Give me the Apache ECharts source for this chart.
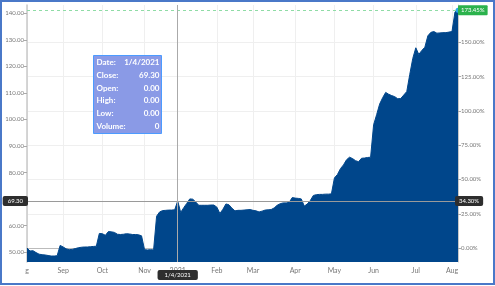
<!DOCTYPE html>
<html>
<head>
<meta charset="utf-8">
<script src="https://cdn.jsdelivr.net/npm/echarts@6/dist/echarts.min.js"></script>
<style>
html, body { margin: 0; padding: 0; background: #fff; }
#chart { position: absolute; left: 0; top: 0; width: 495px; height: 286px; }
#frame { position: absolute; left: 0; top: 0; width: 491px; height: 281px; border: 2px solid #4a78c8; pointer-events: none; }
</style>
</head>
<body>
<div id="chart"></div>
<div id="frame"></div>
<script>
// trading days shown on the chart
function days(m, y, list) { return list.map(d => m + '/' + d + '/' + y); }
const dates = [].concat(
    days(8, 2020, [4, 5, 6, 7, 10, 12, 14, 17, 19, 21, 25, 28]),
    days(9, 2020, [1, 3, 4, 8, 10, 14, 16, 17, 21, 23, 25, 28, 30]),
    days(10, 2020, [1, 2, 5, 7, 9, 12, 14, 16, 19, 21, 23, 26, 28, 30]),
    days(11, 2020, [2, 5, 9, 12, 16, 19, 23]),
    days(12, 2020, [1, 9, 17, 28]),
    days(1, 2021, [4, 6, 8, 11, 13, 15, 19, 21, 22, 25, 26, 28, 29]),
    days(2, 2021, [1, 3, 4, 5, 8, 10, 12, 16, 18, 19, 23, 25]),
    days(3, 2021, [1, 2, 4, 5, 8, 10, 12, 15, 17, 19, 22, 24, 26, 30]),
    days(4, 2021, [1, 5, 6, 8, 12, 14, 16, 19, 20, 22, 26, 28, 30]),
    days(5, 2021, [3, 4, 6, 7, 10, 12, 14, 17, 19, 21, 24, 26, 28]),
    days(6, 2021, [1, 2, 4, 7, 9, 11, 14, 16, 18, 21, 23, 25, 28, 30]),
    days(7, 2021, [1, 2, 6, 8, 9, 13, 15, 19, 21, 23, 27, 29]),
    days(8, 2021, [2, 3, 4])
);

const closes = [
    51.60, 50.5, 50.6, 49.9, 49.3, 49.1, 49.0, 48.8, 48.6, 48.6, 48.7, 52.6,
    52.0, 51.3, 51.0, 51.1, 51.4, 51.7, 51.9, 52.0, 52.0, 52.1, 52.2, 52.3, 57.1,
    57.0, 56.4, 57.8, 57.7, 57.5, 56.8, 56.7, 56.8, 57.0, 56.9, 56.7, 56.7, 56.6, 56.2,
    51.0, 50.9, 51.0, 50.9, 63.6, 65.2, 65.7, 65.8, 65.9, 65.9, 66.0,
    69.30, 65.0, 66.8, 68.4, 70.1, 70.0, 68.9, 67.7, 67.7, 67.7, 67.7, 67.8, 67.8,
    67.0, 64.6, 66.2, 68.2, 67.9, 66.6, 65.6, 65.8, 65.8, 65.9, 66.0, 66.1,
    65.8, 65.6, 65.2, 65.5, 65.9, 66.0, 66.1, 66.7, 67.7, 68.3, 68.6, 68.6, 68.8, 70.6,
    70.4, 70.3, 70.1, 67.4, 68.2, 69.5, 71.4, 71.7, 71.8, 71.8, 71.9, 71.9, 72.0,
    78.0, 79.3, 81.5, 82.9, 84.8, 85.8, 85.3, 84.5, 84.1, 85.4, 85.5, 85.7, 85.8,
    98.0, 101.8, 105.8, 108.2, 110.2, 109.5, 109.0, 108.6, 107.8, 107.9, 109.2, 110.5, 117.0, 123.0,
    127.0, 124.5, 126.0, 127.2, 131.5, 132.8, 133.1, 132.5, 132.6, 132.7, 132.7, 132.9,
    133.1, 140.5, 141.10
];

const tickDates = ['8/4/2020', '9/1/2020', '10/1/2020', '11/2/2020', '1/4/2021', '2/1/2021', '3/1/2021', '4/1/2021', '5/3/2021', '6/1/2021', '7/1/2021', '8/2/2021'];
const tickLabels = ['g', 'Sep', 'Oct', 'Nov', '2021', 'Feb', 'Mar', 'Apr', 'May', 'Jun', 'Jul', 'Aug'];
const priceTicks = [50, 60, 70, 80, 90, 100, 110, 120, 130, 140];
const pctTicks = [0, 25, 50, 75, 100, 125, 150];

// hovered point and its tooltip
const cursorDate = '1/4/2021';
const tipLabels = ['Date:', 'Close:', 'Open:', 'High:', 'Low:', 'Volume:'];
const tipOpen = 0, tipHigh = 0, tipLow = 0, tipVolume = 0;

const priceMin = 46.35, priceMax = 143.1;
const base = closes[0];
const pct = v => (v / base - 1) * 100;

const cursorIdx = dates.indexOf(cursorDate);
const cursorClose = closes[cursorIdx];
const last = closes[closes.length - 1];

const isTick = (i, v) => tickDates.indexOf(v) >= 0;
const font = 'Lato';

const seriesData = closes.map((v, i) => i === closes.length - 1
    ? { value: v, symbol: 'circle', symbolSize: 5, itemStyle: { color: '#2aa8e6' } }
    : v);

const tipValues = [cursorDate, cursorClose.toFixed(2), tipOpen.toFixed(2), tipHigh.toFixed(2), tipLow.toFixed(2), String(tipVolume)];
const tipChildren = [{
    type: 'rect', z: 200,
    shape: { x: 0, y: 0, width: 68, height: 78 },
    style: { fill: '#8a9ae6', stroke: '#4c9bff', lineWidth: 1 }
}];
tipLabels.forEach((t, k) => {
    tipChildren.push({ type: 'text', z: 201, x: 3, y: 7 + k * 12.8,
        style: { text: t, fill: '#fff', font: 'bold 8px ' + font, align: 'left', verticalAlign: 'middle' } });
    tipChildren.push({ type: 'text', z: 201, x: 66, y: 7 + k * 12.8,
        style: { text: tipValues[k], fill: '#fff', font: 'bold 8px ' + font, align: 'right', verticalAlign: 'middle' } });
});

const pointerLabel = {
    show: true, backgroundColor: '#2e2e2e', color: '#fff', fontSize: 6,
    fontFamily: font, padding: [2, 4], borderRadius: 2
};

const chart = echarts.init(document.getElementById('chart'));
chart.setOption({
    animation: false,
    textStyle: { fontFamily: font },
    grid: { left: 27, right: 37, top: 5, bottom: 24 },
    axisPointer: { triggerOn: 'none' },
    xAxis: {
        type: 'category',
        data: dates,
        boundaryGap: false,
        axisLine: { lineStyle: { color: '#bbb' } },
        axisTick: { interval: isTick, length: 3, lineStyle: { color: '#bbb' } },
        axisLabel: {
            interval: isTick, color: '#777', fontSize: 7, margin: 5,
            formatter: v => tickLabels[tickDates.indexOf(v)] || ''
        },
        splitLine: { show: true, interval: isTick, lineStyle: { color: '#efefef' } },
        axisPointer: {
            show: true, status: 'show', value: cursorIdx, type: 'line',
            lineStyle: { color: '#aaa', width: 1, type: 'solid' },
            label: Object.assign({}, pointerLabel, { margin: 8, padding: [2, 7] })
        }
    },
    yAxis: [{
        type: 'value',
        min: priceMin, max: priceMax,
        position: 'left',
        axisLine: { show: true, lineStyle: { color: '#c8c8c8', width: 1.5 } },
        axisTick: { show: true, length: 3, customValues: priceTicks, lineStyle: { color: '#aaa' } },
        axisLabel: { color: '#777', fontSize: 6, margin: 3, customValues: priceTicks, formatter: v => v.toFixed(2) },
        splitLine: { show: false },
        axisPointer: {
            show: true, status: 'show', value: cursorClose, type: 'line',
            lineStyle: { color: '#9a9a9a', width: 1, type: 'solid' },
            label: Object.assign({}, pointerLabel, { margin: -1, padding: [2, 5], formatter: p => Number(p.value).toFixed(2) })
        }
    }, {
        type: 'value',
        min: pct(priceMin), max: pct(priceMax),
        position: 'right',
        axisLine: { show: true, lineStyle: { color: '#c8c8c8' } },
        axisTick: { show: true, length: 3, customValues: pctTicks, lineStyle: { color: '#aaa' } },
        axisLabel: { color: '#777', fontSize: 6, margin: 3, customValues: pctTicks, formatter: v => v.toFixed(2) + '%' },
        splitLine: { show: true, lineStyle: { color: '#efefef' } },
        axisPointer: {
            show: true, status: 'show', value: pct(cursorClose), type: 'line',
            lineStyle: { color: '#9a9a9a', width: 1, type: 'solid' },
            label: Object.assign({}, pointerLabel, { margin: -3, formatter: p => Number(p.value).toFixed(2) + '%' })
        }
    }],
    series: [{
        type: 'line',
        yAxisIndex: 0,
        data: seriesData,
        symbol: 'none',
        showAllSymbol: true,
        lineStyle: { color: '#00468b', width: 1 },
        itemStyle: { color: '#00468b' },
        areaStyle: { color: '#00468b', opacity: 1, origin: 'start' },
        markLine: {
            silent: true,
            symbol: 'none',
            data: [{ yAxis: last }],
            lineStyle: { color: '#8fdca6', type: [3, 3], width: 1 },
            label: {
                position: 'end', distance: 0,
                formatter: pct(last).toFixed(2) + '%',
                backgroundColor: '#2bb24c', color: '#fff', fontSize: 6,
                padding: [2, 3], borderRadius: 1
            }
        }
    }],
    graphic: [{ type: 'group', left: 93, top: 55, z: 200, children: tipChildren }]
});
</script>
</body>
</html>
